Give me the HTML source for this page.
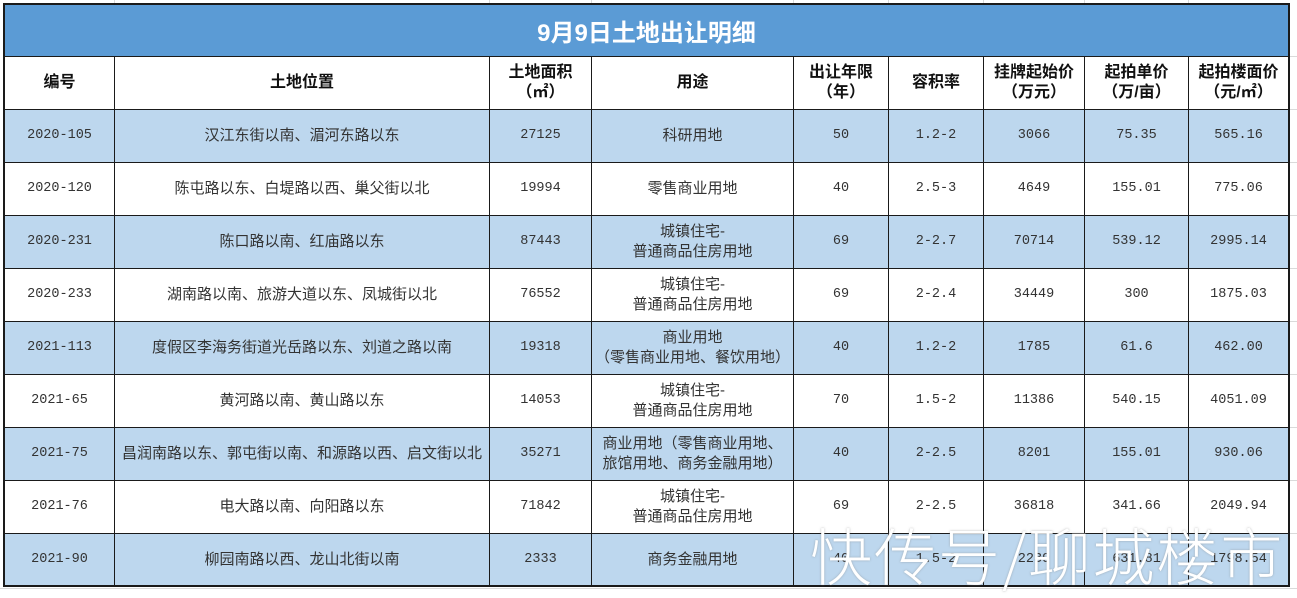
<!DOCTYPE html>
<html><head><meta charset="utf-8">
<style>
html,body{margin:0;padding:0;background:#fff;}
body{width:1297px;height:590px;position:relative;overflow:hidden;font-family:"Liberation Sans","Noto Sans CJK SC",sans-serif;}
.bg{position:absolute;}
.h{position:absolute;height:1px;background:#1a1a1a;}
.v{position:absolute;width:1px;background:#1a1a1a;}
.gh{position:absolute;height:1px;background:#dadada;}
.gv{position:absolute;width:1px;background:#dadada;}
.c{position:absolute;display:flex;align-items:center;justify-content:center;text-align:center;color:#333;font-size:15px;line-height:20px;font-family:"Liberation Sans","Noto Sans CJK SC",sans-serif;}
.n{font-family:"Liberation Mono","Noto Sans CJK SC",monospace;font-size:13.5px;}
.hd{color:#111;font-weight:bold;font-size:16px;line-height:20px;}
.title{position:absolute;left:4px;top:4px;width:1285px;height:52px;display:flex;align-items:center;justify-content:center;color:#fff;font-weight:bold;font-size:24px;font-family:"Liberation Sans","Noto Sans CJK SC",sans-serif;}
.wm{position:absolute;left:810px;top:520px;font-size:62px;line-height:66px;letter-spacing:2px;color:#fff;font-weight:300;font-family:"Noto Sans CJK SC",sans-serif;text-shadow:0 0 2px rgba(120,120,120,0.5);white-space:nowrap;}
</style></head><body>

<div class="gv" style="left:114px;top:0;height:4px"></div>
<div class="gv" style="left:489px;top:0;height:4px"></div>
<div class="gv" style="left:591px;top:0;height:4px"></div>
<div class="gv" style="left:793px;top:0;height:4px"></div>
<div class="gv" style="left:888px;top:0;height:4px"></div>
<div class="gv" style="left:983px;top:0;height:4px"></div>
<div class="gv" style="left:1084px;top:0;height:4px"></div>
<div class="gv" style="left:1188px;top:0;height:4px"></div>
<div class="gh" style="left:1290px;top:56px;width:7px"></div>
<div class="gh" style="left:1290px;top:109px;width:7px"></div>
<div class="gh" style="left:1290px;top:162px;width:7px"></div>
<div class="gh" style="left:1290px;top:215px;width:7px"></div>
<div class="gh" style="left:1290px;top:268px;width:7px"></div>
<div class="gh" style="left:1290px;top:321px;width:7px"></div>
<div class="gh" style="left:1290px;top:374px;width:7px"></div>
<div class="gh" style="left:1290px;top:427px;width:7px"></div>
<div class="gh" style="left:1290px;top:480px;width:7px"></div>
<div class="gh" style="left:1290px;top:533px;width:7px"></div>
<div class="gh" style="left:0;top:588px;width:1297px"></div>

<div class="bg" style="left:4px;top:4px;width:1285px;height:52px;background:#5b9bd5"></div>
<div class="bg" style="left:4px;top:109px;width:1285px;height:53px;background:#bdd7ee"></div>
<div class="bg" style="left:4px;top:215px;width:1285px;height:53px;background:#bdd7ee"></div>
<div class="bg" style="left:4px;top:321px;width:1285px;height:53px;background:#bdd7ee"></div>
<div class="bg" style="left:4px;top:427px;width:1285px;height:53px;background:#bdd7ee"></div>
<div class="bg" style="left:4px;top:533px;width:1285px;height:53px;background:#bdd7ee"></div>

<div class="h" style="left:4px;top:3px;width:1286px;height:2px"></div>
<div class="h" style="left:4px;top:56px;width:1286px"></div>
<div class="h" style="left:4px;top:109px;width:1286px"></div>
<div class="h" style="left:4px;top:162px;width:1286px"></div>
<div class="h" style="left:4px;top:215px;width:1286px"></div>
<div class="h" style="left:4px;top:268px;width:1286px"></div>
<div class="h" style="left:4px;top:321px;width:1286px"></div>
<div class="h" style="left:4px;top:374px;width:1286px"></div>
<div class="h" style="left:4px;top:427px;width:1286px"></div>
<div class="h" style="left:4px;top:480px;width:1286px"></div>
<div class="h" style="left:4px;top:533px;width:1286px"></div>
<div class="h" style="left:4px;top:585px;width:1286px;height:2px"></div>

<div class="v" style="left:3px;top:3px;height:584px;width:2px"></div>
<div class="v" style="left:1288px;top:3px;height:584px;width:2px"></div>
<div class="v" style="left:114px;top:56px;height:530px"></div>
<div class="v" style="left:489px;top:56px;height:530px"></div>
<div class="v" style="left:591px;top:56px;height:530px"></div>
<div class="v" style="left:793px;top:56px;height:530px"></div>
<div class="v" style="left:888px;top:56px;height:530px"></div>
<div class="v" style="left:983px;top:56px;height:530px"></div>
<div class="v" style="left:1084px;top:56px;height:530px"></div>
<div class="v" style="left:1188px;top:56px;height:530px"></div>

<div class="title">9月9日土地出让明细</div>

<div class="c hd" style="left:5px;top:57px;width:109px;height:52px">编号</div>
<div class="c hd" style="left:115px;top:57px;width:374px;height:52px">土地位置</div>
<div class="c hd" style="left:490px;top:57px;width:101px;height:52px">土地面积<br>（㎡）</div>
<div class="c hd" style="left:592px;top:57px;width:201px;height:52px">用途</div>
<div class="c hd" style="left:794px;top:57px;width:94px;height:52px">出让年限<br>（年）</div>
<div class="c hd" style="left:889px;top:57px;width:94px;height:52px">容积率</div>
<div class="c hd" style="left:984px;top:57px;width:100px;height:52px">挂牌起始价<br>（万元）</div>
<div class="c hd" style="left:1085px;top:57px;width:103px;height:52px">起拍单价<br>（万/亩）</div>
<div class="c hd" style="left:1189px;top:57px;width:99px;height:52px">起拍楼面价<br>（元/㎡）</div>

<div class="c n" style="left:5px;top:110px;width:109px;height:52px">2020-105</div>
<div class="c" style="left:115px;top:110px;width:374px;height:52px">汉江东街以南、湄河东路以东</div>
<div class="c n" style="left:490px;top:110px;width:101px;height:52px">27125</div>
<div class="c" style="left:592px;top:110px;width:201px;height:52px">科研用地</div>
<div class="c n" style="left:794px;top:110px;width:94px;height:52px">50</div>
<div class="c n" style="left:889px;top:110px;width:94px;height:52px">1.2-2</div>
<div class="c n" style="left:984px;top:110px;width:100px;height:52px">3066</div>
<div class="c n" style="left:1085px;top:110px;width:103px;height:52px">75.35</div>
<div class="c n" style="left:1189px;top:110px;width:99px;height:52px">565.16</div>

<div class="c n" style="left:5px;top:163px;width:109px;height:52px">2020-120</div>
<div class="c" style="left:115px;top:163px;width:374px;height:52px">陈屯路以东、白堤路以西、巢父街以北</div>
<div class="c n" style="left:490px;top:163px;width:101px;height:52px">19994</div>
<div class="c" style="left:592px;top:163px;width:201px;height:52px">零售商业用地</div>
<div class="c n" style="left:794px;top:163px;width:94px;height:52px">40</div>
<div class="c n" style="left:889px;top:163px;width:94px;height:52px">2.5-3</div>
<div class="c n" style="left:984px;top:163px;width:100px;height:52px">4649</div>
<div class="c n" style="left:1085px;top:163px;width:103px;height:52px">155.01</div>
<div class="c n" style="left:1189px;top:163px;width:99px;height:52px">775.06</div>

<div class="c n" style="left:5px;top:216px;width:109px;height:52px">2020-231</div>
<div class="c" style="left:115px;top:216px;width:374px;height:52px">陈口路以南、红庙路以东</div>
<div class="c n" style="left:490px;top:216px;width:101px;height:52px">87443</div>
<div class="c" style="left:592px;top:216px;width:201px;height:52px">城镇住宅-<br>普通商品住房用地</div>
<div class="c n" style="left:794px;top:216px;width:94px;height:52px">69</div>
<div class="c n" style="left:889px;top:216px;width:94px;height:52px">2-2.7</div>
<div class="c n" style="left:984px;top:216px;width:100px;height:52px">70714</div>
<div class="c n" style="left:1085px;top:216px;width:103px;height:52px">539.12</div>
<div class="c n" style="left:1189px;top:216px;width:99px;height:52px">2995.14</div>

<div class="c n" style="left:5px;top:269px;width:109px;height:52px">2020-233</div>
<div class="c" style="left:115px;top:269px;width:374px;height:52px">湖南路以南、旅游大道以东、凤城街以北</div>
<div class="c n" style="left:490px;top:269px;width:101px;height:52px">76552</div>
<div class="c" style="left:592px;top:269px;width:201px;height:52px">城镇住宅-<br>普通商品住房用地</div>
<div class="c n" style="left:794px;top:269px;width:94px;height:52px">69</div>
<div class="c n" style="left:889px;top:269px;width:94px;height:52px">2-2.4</div>
<div class="c n" style="left:984px;top:269px;width:100px;height:52px">34449</div>
<div class="c n" style="left:1085px;top:269px;width:103px;height:52px">300</div>
<div class="c n" style="left:1189px;top:269px;width:99px;height:52px">1875.03</div>

<div class="c n" style="left:5px;top:322px;width:109px;height:52px">2021-113</div>
<div class="c" style="left:115px;top:322px;width:374px;height:52px">度假区李海务街道光岳路以东、刘道之路以南</div>
<div class="c n" style="left:490px;top:322px;width:101px;height:52px">19318</div>
<div class="c" style="left:592px;top:322px;width:201px;height:52px">商业用地<br>（零售商业用地、餐饮用地）</div>
<div class="c n" style="left:794px;top:322px;width:94px;height:52px">40</div>
<div class="c n" style="left:889px;top:322px;width:94px;height:52px">1.2-2</div>
<div class="c n" style="left:984px;top:322px;width:100px;height:52px">1785</div>
<div class="c n" style="left:1085px;top:322px;width:103px;height:52px">61.6</div>
<div class="c n" style="left:1189px;top:322px;width:99px;height:52px">462.00</div>

<div class="c n" style="left:5px;top:375px;width:109px;height:52px">2021-65</div>
<div class="c" style="left:115px;top:375px;width:374px;height:52px">黄河路以南、黄山路以东</div>
<div class="c n" style="left:490px;top:375px;width:101px;height:52px">14053</div>
<div class="c" style="left:592px;top:375px;width:201px;height:52px">城镇住宅-<br>普通商品住房用地</div>
<div class="c n" style="left:794px;top:375px;width:94px;height:52px">70</div>
<div class="c n" style="left:889px;top:375px;width:94px;height:52px">1.5-2</div>
<div class="c n" style="left:984px;top:375px;width:100px;height:52px">11386</div>
<div class="c n" style="left:1085px;top:375px;width:103px;height:52px">540.15</div>
<div class="c n" style="left:1189px;top:375px;width:99px;height:52px">4051.09</div>

<div class="c n" style="left:5px;top:428px;width:109px;height:52px">2021-75</div>
<div class="c" style="left:115px;top:428px;width:374px;height:52px">昌润南路以东、郭屯街以南、和源路以西、启文街以北</div>
<div class="c n" style="left:490px;top:428px;width:101px;height:52px">35271</div>
<div class="c" style="left:592px;top:428px;width:201px;height:52px">商业用地（零售商业用地、<br>旅馆用地、商务金融用地）</div>
<div class="c n" style="left:794px;top:428px;width:94px;height:52px">40</div>
<div class="c n" style="left:889px;top:428px;width:94px;height:52px">2-2.5</div>
<div class="c n" style="left:984px;top:428px;width:100px;height:52px">8201</div>
<div class="c n" style="left:1085px;top:428px;width:103px;height:52px">155.01</div>
<div class="c n" style="left:1189px;top:428px;width:99px;height:52px">930.06</div>

<div class="c n" style="left:5px;top:481px;width:109px;height:52px">2021-76</div>
<div class="c" style="left:115px;top:481px;width:374px;height:52px">电大路以南、向阳路以东</div>
<div class="c n" style="left:490px;top:481px;width:101px;height:52px">71842</div>
<div class="c" style="left:592px;top:481px;width:201px;height:52px">城镇住宅-<br>普通商品住房用地</div>
<div class="c n" style="left:794px;top:481px;width:94px;height:52px">69</div>
<div class="c n" style="left:889px;top:481px;width:94px;height:52px">2-2.5</div>
<div class="c n" style="left:984px;top:481px;width:100px;height:52px">36818</div>
<div class="c n" style="left:1085px;top:481px;width:103px;height:52px">341.66</div>
<div class="c n" style="left:1189px;top:481px;width:99px;height:52px">2049.94</div>

<div class="c n" style="left:5px;top:534px;width:109px;height:51px">2021-90</div>
<div class="c" style="left:115px;top:534px;width:374px;height:51px">柳园南路以西、龙山北街以南</div>
<div class="c n" style="left:490px;top:534px;width:101px;height:51px">2333</div>
<div class="c" style="left:592px;top:534px;width:201px;height:51px">商务金融用地</div>
<div class="c n" style="left:794px;top:534px;width:94px;height:51px">40</div>
<div class="c n" style="left:889px;top:534px;width:94px;height:51px">1.5-2</div>
<div class="c n" style="left:984px;top:534px;width:100px;height:51px">2239</div>
<div class="c n" style="left:1085px;top:534px;width:103px;height:51px">631.81</div>
<div class="c n" style="left:1189px;top:534px;width:99px;height:51px">1798.54</div>

<div class="wm">快传号/聊城楼市</div>
</body></html>
